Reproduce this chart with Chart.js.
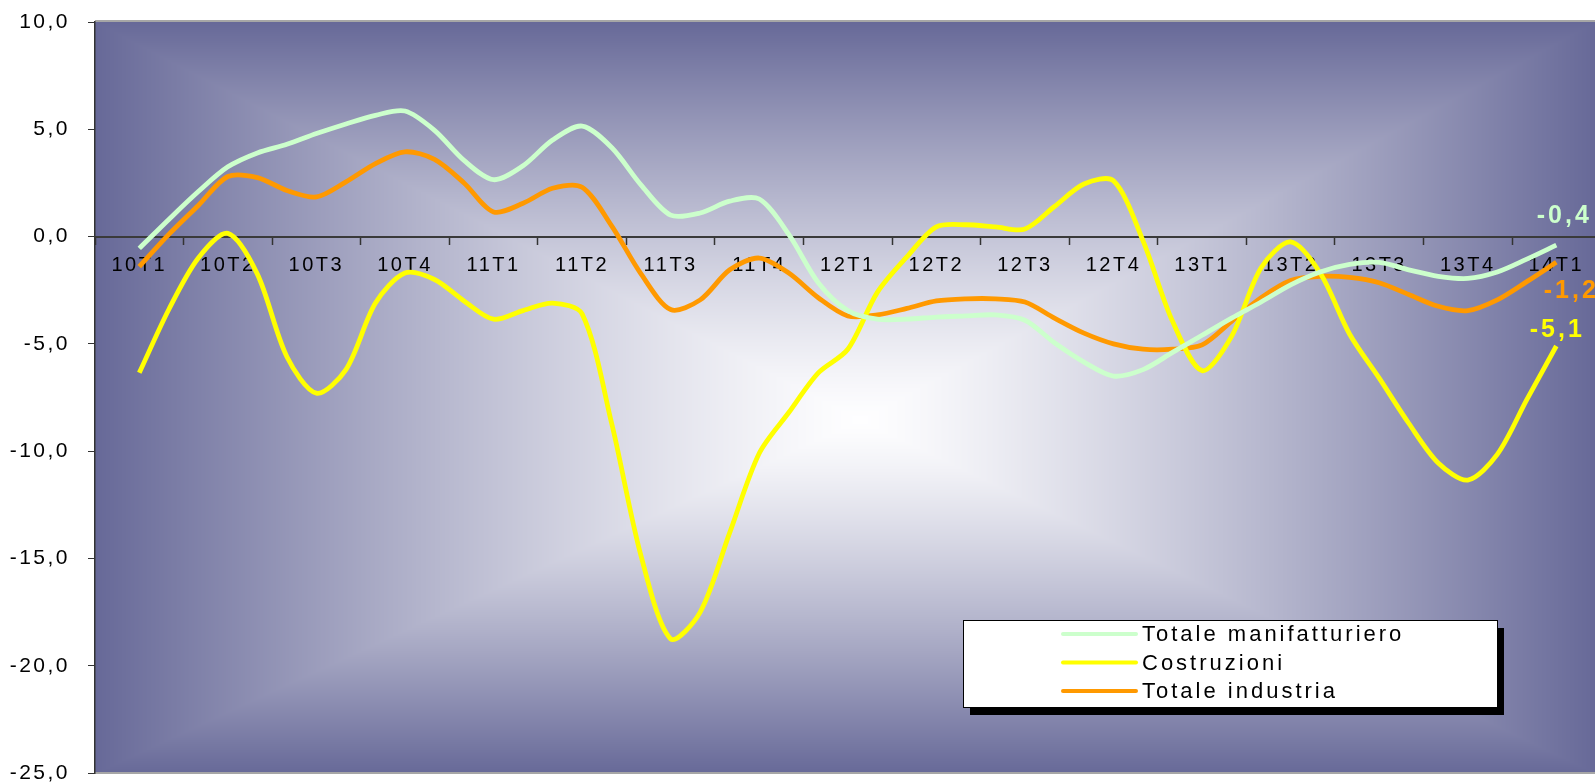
<!DOCTYPE html>
<html>
<head>
<meta charset="utf-8">
<script src="https://cdn.jsdelivr.net/npm/chart.js@4.4.1/dist/chart.umd.min.js"></script>
<style>
  html, body { margin: 0; padding: 0; background: #fff; }
  #wrap { width: 1595px; height: 782px; }
</style>
</head>
<body>
<div id="wrap"><canvas id="industryChart" width="1595" height="782"></canvas></div>
<script>
// quarter labels on the axis, one every 3 monthly points
var quarters = ['10T1','10T2','10T3','10T4','11T1','11T2','11T3','11T4',
                '12T1','12T2','12T3','12T4','13T1','13T2','13T3','13T4','14T1'];

// monthly values, 10T1 .. 14T1
var manifatturiero = [-0.55, 0.8, 2.1, 3.25, 3.9, 4.3, 4.8, 5.25, 5.65, 5.85,
    4.95, 3.55, 2.65, 3.3, 4.5, 5.15, 4.15, 2.4, 1.0, 1.1,
    1.65, 1.75, 0.1, -2.15, -3.45, -3.85, -3.85, -3.75, -3.7, -3.65,
    -3.9, -4.95, -5.85, -6.5, -6.2, -5.4, -4.6, -3.8, -3.05, -2.25,
    -1.65, -1.3, -1.2, -1.55, -1.85, -1.95, -1.65, -1.05, -0.4];

var costruzioni = [-6.35, -3.4, -1.0, 0.15, -1.75, -5.6, -7.3, -6.2, -3.1, -1.7,
    -2.0, -3.0, -3.85, -3.45, -3.1, -3.6, -8.7, -14.9, -18.75, -17.5,
    -13.8, -10.1, -8.2, -6.35, -5.25, -2.6, -0.95, 0.45, 0.55, 0.45,
    0.35, 1.4, 2.45, 2.6, -0.2, -3.95, -6.25, -4.65, -1.45, -0.25,
    -1.7, -4.55, -6.6, -8.7, -10.55, -11.35, -10.15, -7.6, -5.1];

var industria = [-1.4, 0.1, 1.45, 2.8, 2.75, 2.15, 1.85, 2.55, 3.4, 3.95,
    3.6, 2.5, 1.15, 1.55, 2.25, 2.3, 0.5, -1.75, -3.4, -2.95,
    -1.55, -1.0, -1.7, -2.85, -3.7, -3.65, -3.35, -3.0, -2.9, -2.9,
    -3.05, -3.8, -4.5, -5.0, -5.25, -5.25, -5.05, -3.95, -2.85, -2.05,
    -1.85, -1.9, -2.15, -2.7, -3.25, -3.45, -2.95, -2.1, -1.2];

var seriesNames = ['Totale manifatturiero', 'Costruzioni', 'Totale industria'];
var seriesColors = ['#CCFFCC', '#FFFF00', '#FF9900'];

function fmt(v) {
    return v.toFixed(1).replace('.', ',');
}

function toPoints(arr) {
    return arr.map(function (v, i) { return { x: i, y: v }; });
}

function noPadding(scale) {
    scale.paddingTop = 0;
    scale.paddingBottom = 0;
    scale.paddingLeft = 0;
    scale.paddingRight = 0;
}

var bgCache = null;

var backgroundPlugin = {
    id: 'plotBackground',
    beforeDraw: function (chart) {
        var a = chart.chartArea, ctx = chart.ctx;
        var w = Math.round(a.right - a.left), h = Math.round(a.bottom - a.top);
        if (!bgCache || bgCache.width !== w || bgCache.height !== h) {
            bgCache = document.createElement('canvas');
            bgCache.width = w; bgCache.height = h;
            var octx = bgCache.getContext('2d');
            var img = octx.createImageData(w, h);
            var cx = w * 0.51, cy = h * 0.53;
            var edge = [103, 105, 152], mid = [254, 254, 255];
            for (var y = 0; y < h; y++) {
                var ty = y < cy ? (cy - y) / cy : (y - cy) / (h - cy);
                for (var x = 0; x < w; x++) {
                    var tx = x < cx ? (cx - x) / cx : (x - cx) / (w - cx);
                    var t = Math.pow(Math.min(1, Math.max(tx, ty)), 1.25);
                    var k = (y * w + x) * 4;
                    img.data[k] = mid[0] + (edge[0] - mid[0]) * t;
                    img.data[k + 1] = mid[1] + (edge[1] - mid[1]) * t;
                    img.data[k + 2] = mid[2] + (edge[2] - mid[2]) * t;
                    img.data[k + 3] = 255;
                }
            }
            octx.putImageData(img, 0, 0);
        }
        ctx.save();
        ctx.drawImage(bgCache, a.left, a.top);
        ctx.strokeStyle = '#a6a6a6';
        ctx.lineWidth = 2;
        ctx.beginPath();
        ctx.moveTo(a.left, a.top - 1); ctx.lineTo(a.right, a.top - 1);
        ctx.moveTo(a.left, a.bottom); ctx.lineTo(a.right, a.bottom);
        ctx.stroke();
        ctx.restore();
        // spaced text for the tick labels, like the original
        ctx.letterSpacing = '2.5px';
    }
};

var endLabelPlugin = {
    id: 'endLabels',
    afterDatasetsDraw: function (chart) {
        var ctx = chart.ctx;
        var offsets = [[8, -29], [1, -16], [15, 29]];
        ctx.save();
        ctx.letterSpacing = '3px';
        ctx.font = 'bold 25px "Liberation Sans", Arial, sans-serif';
        ctx.textAlign = 'center';
        ctx.textBaseline = 'middle';
        chart.data.datasets.forEach(function (ds, i) {
            var meta = chart.getDatasetMeta(i);
            var pt = meta.data[meta.data.length - 1];
            var last = ds.data[ds.data.length - 1].y;
            ctx.fillStyle = ds.borderColor;
            ctx.fillText(fmt(last), pt.x + offsets[i][0], pt.y + offsets[i][1]);
        });
        ctx.restore();
    }
};

var boxLegendPlugin = {
    id: 'boxLegend',
    afterDraw: function (chart) {
        var ctx = chart.ctx, a = chart.chartArea;
        var left = a.left + 868, top = a.top + 598, w = 534, h = 87;
        ctx.save();
        ctx.fillStyle = '#000';
        ctx.fillRect(left + 7, top + 8, w, h);
        ctx.fillStyle = '#fff';
        ctx.fillRect(left, top, w, h);
        ctx.strokeStyle = '#000';
        ctx.lineWidth = 1;
        ctx.strokeRect(left + 0.5, top + 0.5, w, h);
        ctx.letterSpacing = '3px';
        ctx.font = '22px "Liberation Sans", Arial, sans-serif';
        ctx.textBaseline = 'middle';
        ctx.textAlign = 'left';
        chart.data.datasets.forEach(function (ds, i) {
            var y = top + 14 + i * 28.5;
            ctx.strokeStyle = ds.borderColor;
            ctx.lineWidth = 4;
            ctx.lineCap = 'round';
            ctx.beginPath();
            ctx.moveTo(left + 100, y);
            ctx.lineTo(left + 173, y);
            ctx.stroke();
            ctx.fillStyle = '#000';
            ctx.fillText(ds.label, left + 179, y + 1);
        });
        ctx.restore();
    }
};

var chartCtx = document.getElementById('industryChart');
var industryChart = new Chart(chartCtx, {
    type: 'line',
    data: {
        datasets: [
            { label: seriesNames[0], data: toPoints(manifatturiero), borderColor: seriesColors[0] },
            { label: seriesNames[1], data: toPoints(costruzioni), borderColor: seriesColors[1] },
            { label: seriesNames[2], data: toPoints(industria), borderColor: seriesColors[2] }
        ]
    },
    options: {
        responsive: false,
        animation: false,
        devicePixelRatio: 1,
        layout: { padding: { top: 22, bottom: 9, left: 0, right: 0 } },
        elements: {
            line: { borderWidth: 4.8, tension: 0.3, fill: false },
            point: { radius: 0 }
        },
        plugins: {
            legend: { display: false },
            tooltip: { enabled: false }
        },
        scales: {
            x: {
                type: 'linear',
                position: { y: 0 },
                min: -1.5,
                max: 49.31,
                afterBuildTicks: function (axis) {
                    var t = [];
                    for (var v = -1.5; v <= axis.max + 0.001; v += 1.5) t.push({ value: v });
                    axis.ticks = t;
                },
                afterFit: noPadding,
                grid: {
                    drawOnChartArea: false,
                    drawTicks: true,
                    tickLength: 7,
                    tickWidth: 1.5,
                    tickColor: function (c) {
                        if (!c.tick) return '#333';
                        return Math.abs(c.tick.value % 3) < 0.01 ? 'rgba(0,0,0,0)' : '#333';
                    }
                },
                border: { display: true, color: '#3a3a3a', width: 2 },
                ticks: {
                    autoSkip: false,
                    maxRotation: 0,
                    minRotation: 0,
                    padding: 10,
                    color: '#000',
                    font: { family: '"Liberation Sans", Arial, sans-serif', size: 20 },
                    callback: function (value) {
                        if (Math.abs(value % 3) > 0.01) return '';
                        return quarters[Math.round(value / 3)] || '';
                    }
                }
            },
            y: {
                min: -25,
                max: 10,
                afterFit: function (scale) {
                    noPadding(scale);
                    scale.width = 95;
                },
                grid: {
                    drawOnChartArea: false,
                    drawTicks: true,
                    tickLength: 7,
                    tickColor: '#333'
                },
                border: { display: true, color: '#333', width: 1.5 },
                ticks: {
                    stepSize: 5,
                    padding: 18,
                    color: '#000',
                    font: { family: '"Liberation Sans", Arial, sans-serif', size: 21 },
                    callback: function (value) { return fmt(value); }
                }
            }
        }
    },
    plugins: [backgroundPlugin, endLabelPlugin, boxLegendPlugin]
});
</script>
</body>
</html>
